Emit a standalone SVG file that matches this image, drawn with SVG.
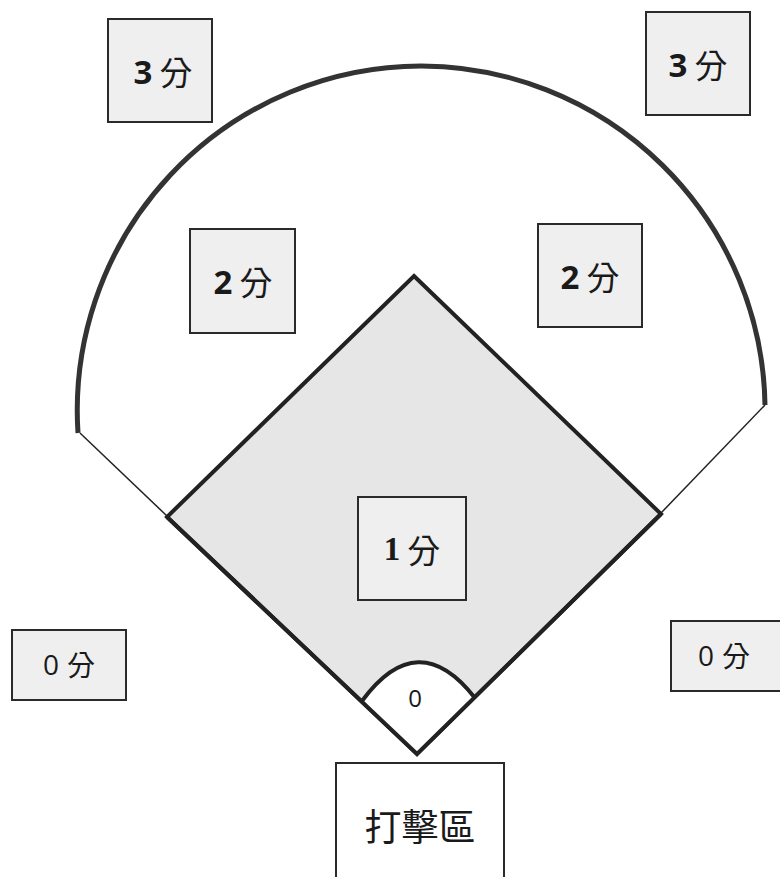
<svg xmlns="http://www.w3.org/2000/svg" width="780" height="877" viewBox="0 0 780 877">
<style>
.box{fill:#efefef;stroke:#2a2a2a;stroke-width:2}
.lbl{font-family:"Open Sans","Noto Sans CJK TC",sans-serif;fill:#1a1a1a;text-anchor:middle;dominant-baseline:central}
.num{font-weight:bold}
.cj{font-family:"Noto Sans CJK TC",sans-serif;font-weight:normal}
</style>
<rect width="780" height="877" fill="#ffffff"/>
<g id="field">
<path d="M78,433 A344.5,344.5 0 0 1 421,66 A344.5,344.5 0 0 1 765,405" fill="none" stroke="#333" stroke-width="5"/>
<polygon id="diamond" points="414,276 661,514 417,754 167,517" fill="#e6e6e6" stroke="#222" stroke-width="4" stroke-linejoin="miter"/>
<path d="M362,701 Q418,625 475,698 L417,754 Z" fill="#ffffff" stroke="none"/>
<path d="M362,701 Q418,625 475,698" fill="none" stroke="#222" stroke-width="4"/>
<path d="M167,517 L417,754 L661,514" fill="none" stroke="#222" stroke-width="4"/>
<text class="lbl" x="415" y="697" font-size="24">0</text>
</g>
<g id="connectors">
<line x1="80" y1="433" x2="167" y2="516" stroke="#222" stroke-width="1.5"/>
<line x1="765" y1="405" x2="661" y2="513" stroke="#222" stroke-width="1.5"/>
</g>
<g id="n3left"><rect class="box" x="108" y="19" width="104" height="103"/><text class="lbl" x="163" y="71" font-size="33"><tspan class="num">3</tspan><tspan class="cj" dx="7">分</tspan></text></g>
<g id="n3right"><rect class="box" x="646" y="12" width="104" height="103"/><text class="lbl" x="698" y="64" font-size="33"><tspan class="num">3</tspan><tspan class="cj" dx="7">分</tspan></text></g>
<g id="n2left"><rect class="box" x="190" y="229" width="105" height="104"/><text class="lbl" x="243" y="281" font-size="33"><tspan class="num">2</tspan><tspan class="cj" dx="7">分</tspan></text></g>
<g id="n2right"><rect class="box" x="538" y="224" width="104" height="103"/><text class="lbl" x="590" y="276" font-size="33"><tspan class="num">2</tspan><tspan class="cj" dx="7">分</tspan></text></g>
<g id="n1"><rect class="box" x="358" y="497" width="108" height="103"/><text class="lbl" x="412" y="549" font-size="33"><tspan class="num" font-family="Liberation Serif,serif">1</tspan><tspan class="cj" dx="7">分</tspan></text></g>
<g id="n0left"><rect class="box" x="12" y="630" width="114" height="70"/><text class="lbl" x="69" y="664" font-size="28"><tspan>0</tspan><tspan class="cj" dx="8">分</tspan></text></g>
<g id="n0right"><rect class="box" x="671" y="621" width="112" height="70"/><text class="lbl" x="724" y="655" font-size="28"><tspan>0</tspan><tspan class="cj" dx="8">分</tspan></text></g>
<g id="batter"><rect x="336" y="763" width="168" height="120" fill="#ffffff" stroke="#2a2a2a" stroke-width="2"/><text class="lbl cj" x="420" y="825" font-size="37">打擊區</text></g>
</svg>
